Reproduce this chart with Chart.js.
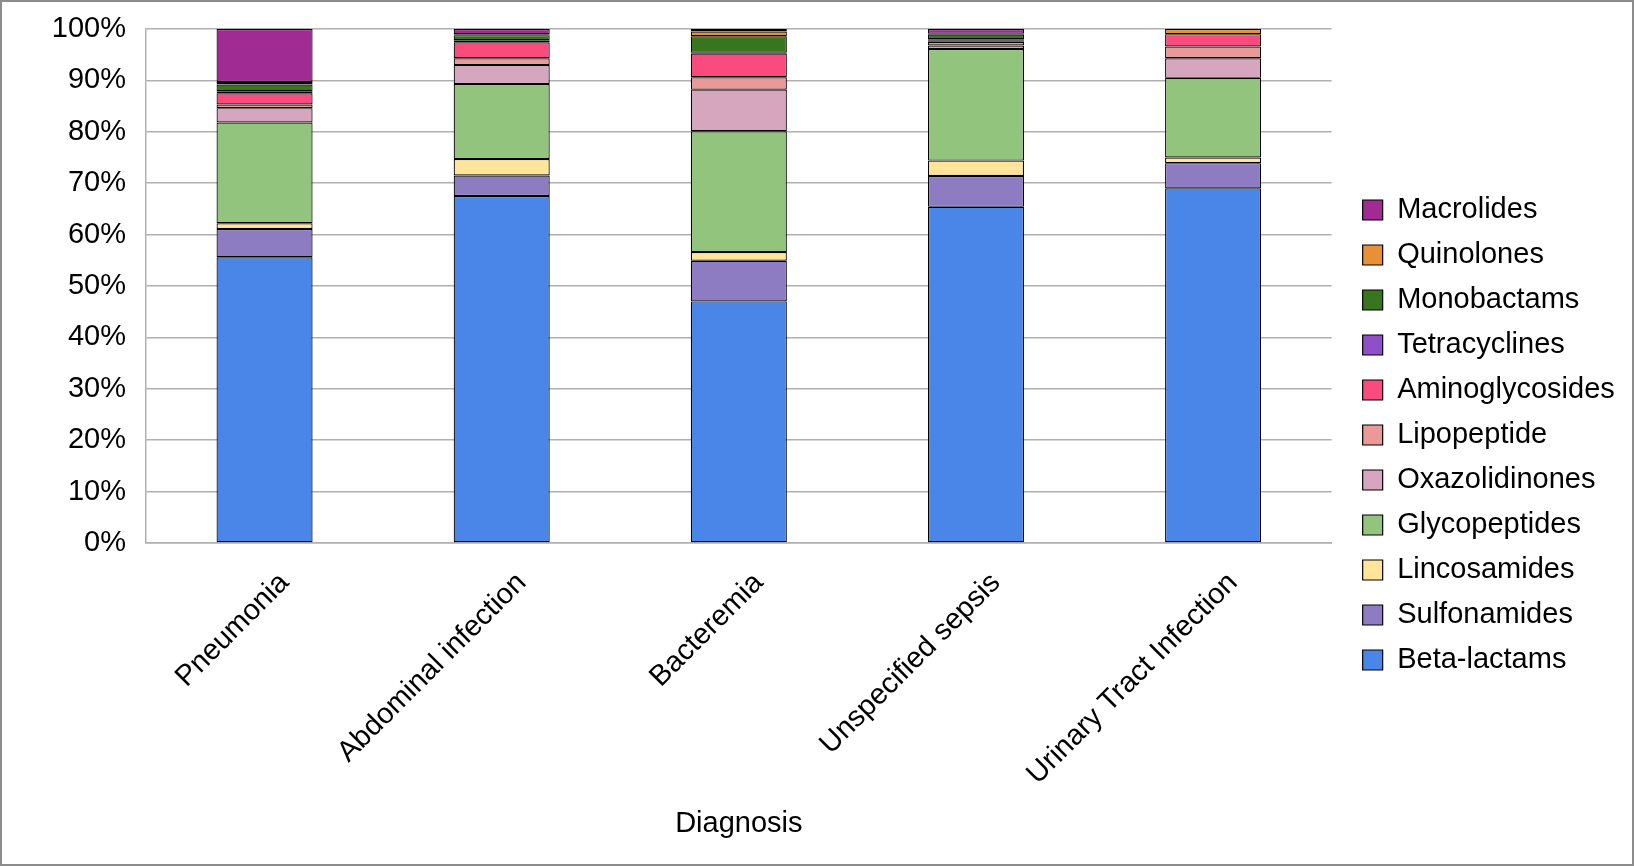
<!DOCTYPE html>
<html>
<head>
<meta charset="utf-8">
<script src="https://cdn.jsdelivr.net/npm/chart.js@4.4.1/dist/chart.umd.min.js"></script>
<style>
  html, body { margin: 0; padding: 0; background: #fff; }
  #wrap { position: relative; width: 1634px; height: 866px; box-sizing: border-box; border: 2px solid #8c8c8c; }
  #myChart { position: absolute; left: -2px; top: -2px; }
</style>
</head>
<body>
<div id="wrap"><canvas id="myChart" width="1634" height="866"></canvas></div>
<script>
const categories = ['Pneumonia', 'Abdominal infection', 'Bacteremia', 'Unspecified sepsis', 'Urinary Tract Infection'];
const yTicks = [0, 10, 20, 30, 40, 50, 60, 70, 80, 90, 100];

// share of each antibiotic class per diagnosis, in percent (bottom to top)
const betaLactams     = [55.6, 67.5, 47.0, 65.4, 69.0];
const sulfonamides    = [5.5, 4.0, 7.9, 6.0, 4.9];
const lincosamides    = [1.1, 3.2, 1.7, 3.0, 1.1];
const glycopeptides   = [19.6, 14.6, 23.5, 21.7, 15.5];
const oxazolidinones  = [2.8, 3.7, 8.1, 0.7, 3.8];
const lipopeptide     = [0.7, 1.3, 2.4, 0.7, 2.3];
const aminoglycosides = [2.2, 3.1, 4.6, 0.3, 2.4];
const tetracyclines   = [0.4, 0.4, 0.2, 0.2, 0];
const monobactams     = [1.3, 1.0, 3.2, 0.9, 0];
const quinolones      = [0.5, 0.2, 0.9, 0.2, 1.0];
const macrolides      = [10.3, 1.0, 0.5, 0.9, 0];

const series = [
    { name: 'Beta-lactams', values: betaLactams, color: '#4a86e8' },
    { name: 'Sulfonamides', values: sulfonamides, color: '#8e7cc3' },
    { name: 'Lincosamides', values: lincosamides, color: '#ffe599' },
    { name: 'Glycopeptides', values: glycopeptides, color: '#93c47d' },
    { name: 'Oxazolidinones', values: oxazolidinones, color: '#d5a6bd' },
    { name: 'Lipopeptide', values: lipopeptide, color: '#ea9999' },
    { name: 'Aminoglycosides', values: aminoglycosides, color: '#fa4b7e' },
    { name: 'Tetracyclines', values: tetracyclines, color: '#8e4fc9' },
    { name: 'Monobactams', values: monobactams, color: '#38761d' },
    { name: 'Quinolones', values: quinolones, color: '#e69138' },
    { name: 'Macrolides', values: macrolides, color: '#a02b93' }
];

const font = { family: '"Liberation Sans", Arial, sans-serif', size: 29 };
const gridColor = '#b0b0b0';

Chart.defaults.color = '#000';

const ctx = document.getElementById('myChart').getContext('2d');
new Chart(ctx, {
    type: 'bar',
    data: {
        labels: categories,
        datasets: series.map(s => ({
            label: s.name,
            data: s.values,
            backgroundColor: s.color,
            borderColor: '#000',
            borderWidth: 1.2,
            borderSkipped: false,
            barPercentage: 0.405,
            categoryPercentage: 1
        }))
    },
    options: {
        responsive: false,
        animation: false,
        layout: { padding: { top: 29, bottom: 25, left: 0, right: 18 } },
        plugins: {
            tooltip: { enabled: false },
            legend: {
                position: 'right',
                reverse: true,
                labels: {
                    font: font,
                    boxWidth: 20,
                    boxHeight: 20,
                    padding: 16,
                    color: '#000'
                }
            }
        },
        scales: {
            x: {
                stacked: true,
                grid: { display: false },
                border: { display: true, color: gridColor, width: 1.5 },
                ticks: { font: font, maxRotation: 45, minRotation: 45, padding: 15, labelOffset: 20 },
                title: { display: true, text: 'Diagnosis', font: font, padding: { top: 0, bottom: 0 } },
                afterFit: s => { s.height = 298; }
            },
            y: {
                stacked: true,
                min: 0,
                max: 100,
                afterBuildTicks: s => { s.ticks = yTicks.map(v => ({ value: v })); },
                grid: { color: gridColor, lineWidth: 1.5, drawTicks: false },
                border: { display: true, color: gridColor, width: 1.5 },
                ticks: { font: font, padding: 20, callback: v => v + '%' },
                afterFit: s => {
                    s.width = 146;
                    s.paddingTop = 0;
                    s.paddingBottom = 0;
                }
            },
            gap: {
                position: 'right',
                display: true,
                grid: { display: false },
                border: { display: false },
                ticks: { display: false },
                afterFit: s => { s.width = 15; }
            }
        }
    }
});
</script>
</body>
</html>
